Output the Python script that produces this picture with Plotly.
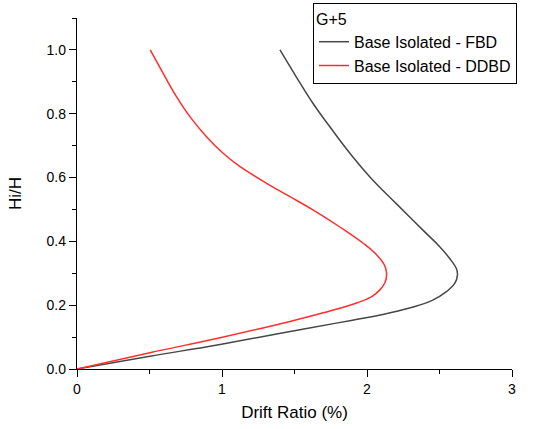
import plotly.graph_objects as go

# Drift ratio (%) vs normalized height Hi/H
fbd_drift = [0, 0.503, 0.987, 1.584, 1.9, 2.1, 2.3, 2.45, 2.55, 2.605, 2.624, 2.617, 2.569, 2.50, 2.384, 2.20, 2.02, 1.882, 1.744, 1.628, 1.513, 1.40]
fbd_height = [0, 0.040, 0.077, 0.127, 0.153, 0.170, 0.192, 0.215, 0.243, 0.268, 0.295, 0.314, 0.347, 0.384, 0.436, 0.519, 0.602, 0.676, 0.759, 0.832, 0.915, 1.0]

ddbd_drift = [0, 0.503, 0.987, 1.469, 1.698, 1.928, 2.03, 2.089, 2.125, 2.135, 2.12, 2.066, 1.974, 1.813, 1.63, 1.469, 1.308, 1.125, 1.008, 0.893, 0.780, 0.687, 0.595, 0.505]
ddbd_height = [0, 0.051, 0.098, 0.149, 0.176, 0.207, 0.226, 0.248, 0.272, 0.300, 0.326, 0.358, 0.394, 0.445, 0.498, 0.540, 0.582, 0.634, 0.676, 0.728, 0.790, 0.853, 0.926, 1.0]

x_ticks = [0, 1, 2, 3]
y_ticks = [0.0, 0.2, 0.4, 0.6, 0.8, 1.0]
y_ticklabels = ["0.0", "0.2", "0.4", "0.6", "0.8", "1.0"]

FONT = "Liberation Sans, Arial, sans-serif"

fig = go.Figure()
fig.add_trace(go.Scatter(x=fbd_drift, y=fbd_height, mode="lines",
                         line=dict(color="#474747", width=1.5, shape="spline", smoothing=1.2),
                         name="Base Isolated - FBD"))
fig.add_trace(go.Scatter(x=ddbd_drift, y=ddbd_height, mode="lines",
                         line=dict(color="#ff2e2e", width=1.5, shape="spline", smoothing=1.2),
                         name="Base Isolated - DDBD"))

axis_common = dict(showline=True, linecolor="black", linewidth=1.3, ticks="outside",
                   ticklen=7, tickwidth=1.3, tickcolor="black", showgrid=False, zeroline=False,
                   automargin=False,
                   tickfont=dict(family=FONT, size=14, color="black"))

fig.update_xaxes(range=[0, 3], tickvals=x_ticks, ticktext=[str(v) for v in x_ticks],
                 title=dict(text="Drift Ratio (%)", font=dict(family=FONT, size=17, color="black"), standoff=10),
                 minor=dict(ticks="outside", ticklen=4, tickwidth=1.3, tickcolor="black", dtick=0.5, tick0=0),
                 **axis_common)
fig.update_yaxes(range=[0, 1.1], tickvals=y_ticks, ticktext=y_ticklabels,
                 title=dict(text="Hi/H", font=dict(family=FONT, size=17, color="black"), standoff=20),
                 minor=dict(ticks="outside", ticklen=4, tickwidth=1.3, tickcolor="black", dtick=0.1, tick0=0),
                 **axis_common)

fig.update_layout(
    width=539, height=429,
    margin=dict(l=77, r=27, t=18, b=60, autoexpand=False),
    plot_bgcolor="white", paper_bgcolor="white",
    font=dict(family=FONT, color="black"),
    legend=dict(x=0.5425, y=1.0427, xanchor="left", yanchor="top",
                bgcolor="white", bordercolor="black", borderwidth=1,
                font=dict(family=FONT, size=16, color="black"),
                title=dict(text="G+5", font=dict(family=FONT, size=16, color="black")),
                tracegroupgap=0, itemwidth=30),
    showlegend=True,
)

fig.write_html("out.html", config={"displayModeBar": False},
               post_script="document.body.style.margin='0';")
